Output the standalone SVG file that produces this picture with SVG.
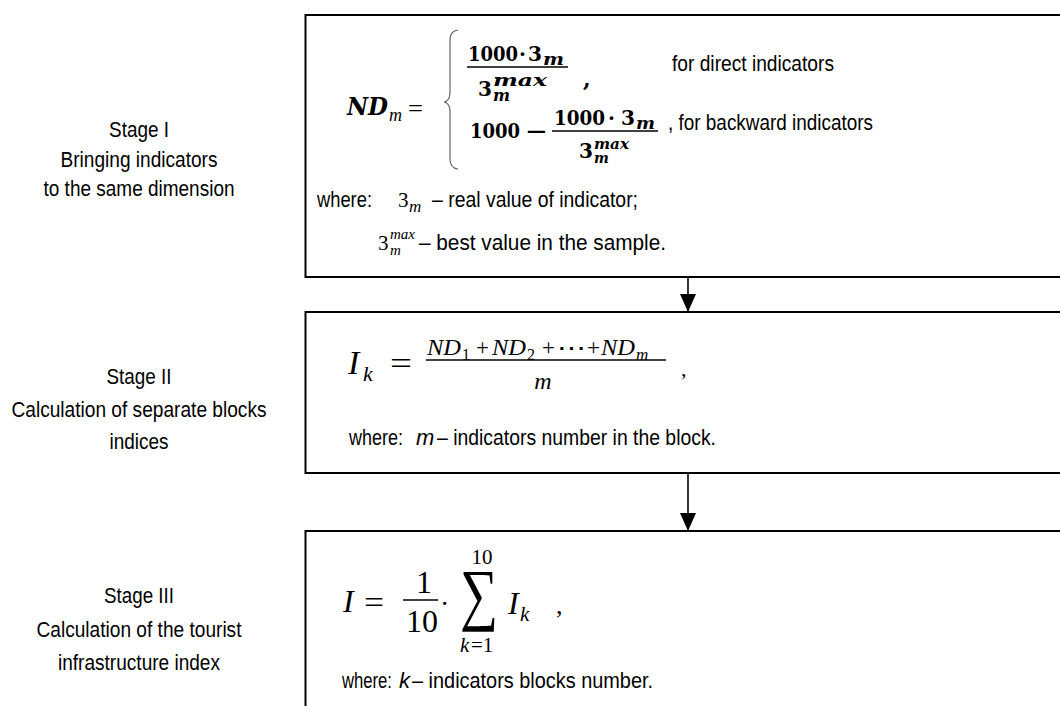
<svg xmlns="http://www.w3.org/2000/svg" width="1060" height="706" viewBox="0 0 1060 706">
<style>
.box{fill:#fff;stroke:#000;stroke-width:2}
.lbl{font-family:"Liberation Sans",Arial,sans-serif;font-size:22px;fill:#000}
.mid{text-anchor:middle}
.it{font-style:italic}
.bm{font-family:"DejaVu Serif",serif;font-weight:bold;fill:#000}
.bmi{font-family:"DejaVu Serif",serif;font-weight:bold;font-style:italic;fill:#000}
.m{font-family:"Liberation Serif","Times New Roman",serif;fill:#000}
.mi{font-family:"Liberation Serif","Times New Roman",serif;font-style:italic;fill:#000}
.bar{stroke:#000;stroke-width:1.5}
.conn{stroke:#000;stroke-width:1.6;fill:none;marker-end:url(#ah)}
</style>
<defs>
<marker id="ah" markerUnits="userSpaceOnUse" markerWidth="18" markerHeight="16" refX="18" refY="8" orient="auto">
<path d="M0,0 L18,8 L0,16 Z" fill="#000"/>
</marker>
</defs>
<rect width="1060" height="706" fill="#fff"/>

<g id="label-stage1">
<text class="lbl mid" x="139" y="137" textLength="60" lengthAdjust="spacingAndGlyphs">Stage I</text>
<text class="lbl mid" x="139" y="167" textLength="157" lengthAdjust="spacingAndGlyphs">Bringing indicators</text>
<text class="lbl mid" x="139" y="196" textLength="191" lengthAdjust="spacingAndGlyphs">to the same dimension</text>
</g>
<g id="label-stage2">
<text class="lbl mid" x="139" y="384" textLength="65" lengthAdjust="spacingAndGlyphs">Stage II</text>
<text class="lbl mid" x="139" y="417" textLength="255" lengthAdjust="spacingAndGlyphs">Calculation of separate blocks</text>
<text class="lbl mid" x="139" y="449" textLength="59" lengthAdjust="spacingAndGlyphs">indices</text>
</g>
<g id="label-stage3">
<text class="lbl mid" x="139" y="603" textLength="70" lengthAdjust="spacingAndGlyphs">Stage III</text>
<text class="lbl mid" x="139" y="637" textLength="205" lengthAdjust="spacingAndGlyphs">Calculation of the tourist</text>
<text class="lbl mid" x="139" y="670" textLength="162" lengthAdjust="spacingAndGlyphs">infrastructure index</text>
</g>

<g id="box-stage1">
<rect class="box" x="305.5" y="15" width="770" height="262"/>
<text class="bmi" x="347" y="115" font-size="24" textLength="41" lengthAdjust="spacingAndGlyphs">ND</text>
<text class="mi" x="389" y="121" font-size="18">m</text>
<text class="m" x="408" y="117" font-size="26" textLength="15" lengthAdjust="spacingAndGlyphs">=</text>
<path d="M458,30 Q450,31 450,40 L450,92 Q450,101 444,102 Q450,103 450,112 L450,159 Q450,168 458,169" fill="none" stroke="#666" stroke-width="1.2"/>
<text class="bm" x="468" y="61" font-size="20" textLength="50" lengthAdjust="spacingAndGlyphs">1000</text>
<text class="bm" x="519" y="61" font-size="20">·</text>
<text class="bm" x="528" y="61" font-size="20" textLength="14" lengthAdjust="spacingAndGlyphs">3</text>
<text class="bmi" x="543" y="65" font-size="17" textLength="21" lengthAdjust="spacingAndGlyphs">m</text>
<line class="bar" x1="467" y1="67" x2="568" y2="67"/>
<text class="bm" x="478" y="96" font-size="20" textLength="14" lengthAdjust="spacingAndGlyphs">3</text>
<text class="bmi" x="493" y="86" font-size="16" textLength="54" lengthAdjust="spacingAndGlyphs">max</text>
<text class="bmi" x="493" y="101" font-size="16" textLength="17" lengthAdjust="spacingAndGlyphs">m</text>
<text class="bm" x="583" y="87" font-size="22">,</text>
<text class="lbl" x="672" y="71" textLength="162" lengthAdjust="spacingAndGlyphs">for direct indicators</text>
<text class="bm" x="470" y="138" font-size="20" textLength="50" lengthAdjust="spacingAndGlyphs">1000</text>
<text class="bm" x="525" y="138" font-size="20" textLength="23" lengthAdjust="spacingAndGlyphs">−</text>
<text class="bm" x="554" y="125" font-size="20" textLength="51" lengthAdjust="spacingAndGlyphs">1000</text>
<text class="bm" x="608" y="125" font-size="20">·</text>
<text class="bm" x="621" y="125" font-size="20" textLength="14" lengthAdjust="spacingAndGlyphs">3</text>
<text class="bmi" x="636" y="129" font-size="17" textLength="19" lengthAdjust="spacingAndGlyphs">m</text>
<line class="bar" x1="552" y1="131" x2="658" y2="131"/>
<text class="bm" x="579" y="158" font-size="20" textLength="14" lengthAdjust="spacingAndGlyphs">3</text>
<text class="bmi" x="594" y="149" font-size="14" textLength="35" lengthAdjust="spacingAndGlyphs">max</text>
<text class="bmi" x="594" y="163" font-size="14">m</text>
<text class="lbl" x="668" y="130" textLength="205" lengthAdjust="spacingAndGlyphs">, for backward indicators</text>
<text class="lbl" x="317" y="207" textLength="55" lengthAdjust="spacingAndGlyphs">where:</text>
<text class="m" x="398" y="207" font-size="21">3</text>
<text class="mi" x="409" y="212" font-size="17">m</text>
<text class="lbl" x="432" y="207" textLength="206" lengthAdjust="spacingAndGlyphs">– real value of indicator;</text>
<text class="m" x="378" y="250" font-size="21">3</text>
<text class="mi" x="390" y="239" font-size="15">max</text>
<text class="mi" x="390" y="255" font-size="15">m</text>
<text class="lbl" x="419" y="250" textLength="247" lengthAdjust="spacingAndGlyphs">– best value in the sample.</text>
</g>

<g id="box-stage2">
<rect class="box" x="305.5" y="312" width="770" height="161"/>
<text class="mi" x="348" y="374" font-size="34">I</text>
<text class="mi" x="363" y="381" font-size="22">k</text>
<text class="m" x="390" y="374" font-size="32" textLength="22" lengthAdjust="spacingAndGlyphs">=</text>
<text class="mi" x="427" y="355" font-size="23" textLength="34" lengthAdjust="spacingAndGlyphs">ND</text>
<text class="m" x="462" y="360" font-size="16">1</text>
<text class="m" x="476" y="355" font-size="23">+</text>
<text class="mi" x="492" y="355" font-size="23" textLength="34" lengthAdjust="spacingAndGlyphs">ND</text>
<text class="m" x="527" y="360" font-size="16">2</text>
<text class="m" x="542" y="355" font-size="23">+</text>
<text class="m" x="557" y="355" font-size="23" textLength="29" lengthAdjust="spacingAndGlyphs">⋯</text>
<text class="m" x="587" y="355" font-size="23">+</text>
<text class="mi" x="601" y="355" font-size="23" textLength="34" lengthAdjust="spacingAndGlyphs">ND</text>
<text class="mi" x="636" y="360" font-size="17">m</text>
<line class="bar" x1="426" y1="360" x2="666" y2="360"/>
<text class="mi mid" x="543" y="389" font-size="24">m</text>
<text class="m" x="681" y="376" font-size="22">,</text>
<text class="lbl" x="349" y="445" textLength="54" lengthAdjust="spacingAndGlyphs">where:</text>
<text class="lbl it" x="416" y="445">m</text>
<text class="lbl" x="437" y="445" textLength="279" lengthAdjust="spacingAndGlyphs">– indicators number in the block.</text>
</g>

<g id="box-stage3">
<rect class="box" x="305.5" y="531" width="770" height="200"/>
<text class="mi" x="343" y="612" font-size="32">I</text>
<text class="m" x="364" y="613" font-size="32" textLength="20" lengthAdjust="spacingAndGlyphs">=</text>
<text class="m mid" x="424" y="593" font-size="32">1</text>
<line class="bar" x1="403" y1="600" x2="438" y2="600"/>
<text class="m mid" x="422" y="632" font-size="32">10</text>
<text class="m" x="440" y="613" font-size="28">·</text>
<text class="m" x="460" y="617" font-size="69" textLength="38" lengthAdjust="spacingAndGlyphs">∑</text>
<text class="m mid" x="482" y="564" font-size="21">10</text>
<text class="mi" x="460" y="652" font-size="21">k</text>
<text class="m" x="471" y="652" font-size="21">=1</text>
<text class="mi" x="508" y="614" font-size="32">I</text>
<text class="mi" x="520" y="621" font-size="21">k</text>
<text class="m" x="556" y="614" font-size="26">,</text>
<text class="lbl" x="342" y="688" textLength="50" lengthAdjust="spacingAndGlyphs">where:</text>
<text class="lbl it" x="399" y="688">k</text>
<text class="lbl" x="412" y="688" textLength="241" lengthAdjust="spacingAndGlyphs">– indicators blocks number.</text>
</g>

<g id="connectors">
<line class="conn" x1="688" y1="277" x2="688" y2="312"/>
<line class="conn" x1="688" y1="473" x2="688" y2="531"/>
</g>
</svg>
